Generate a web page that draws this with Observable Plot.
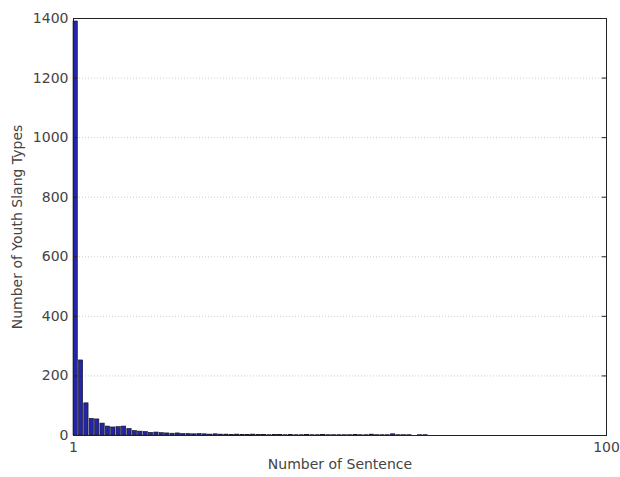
<!DOCTYPE html>
<html><head><meta charset="utf-8">
<script src="https://cdn.jsdelivr.net/npm/d3@7"></script>
<script src="https://cdn.jsdelivr.net/npm/@observablehq/plot@0.6"></script>
<style>
body{margin:0;background:#fff;font-family:"DejaVu Sans",sans-serif;}
</style></head>
<body><div id="chart"></div>
<script>
const sentenceCounts = d3.range(1, 67);
const slangTypes = [1390, 252, 108, 56, 54, 40, 30, 27, 28, 30, 22, 15, 13, 12, 9, 10, 8, 7, 6, 7, 5, 5, 4, 5, 4, 3, 4, 3, 3, 2, 3, 2, 2, 3, 2, 2, 1, 2, 2, 1, 2, 1, 1, 2, 1, 1, 2, 1, 1, 1, 1, 1, 2, 1, 1, 3, 1, 1, 1, 4, 1, 1, 1, 0, 1, 1];
const yTicks = [0, 200, 400, 600, 800, 1000, 1200, 1400];
const xTicks = [1, 100];

const data = sentenceCounts.map((s, i) => ({s, n: slangTypes[i]}));

const chart = Plot.plot({
  width: 620,
  height: 477,
  marginLeft: 73,
  marginRight: 14,
  marginTop: 18,
  marginBottom: 42,
  style: {fontFamily: "DejaVu Sans, sans-serif", fontSize: "14px", color: "#444", background: "#fff"},
  x: {domain: [1, 100], ticks: xTicks, tickFormat: d => d, label: null},
  y: {domain: [0, 1400], ticks: yTicks, tickFormat: d => String(d), label: null},
  marks: [
    Plot.ruleY(yTicks.slice(1, -1), {stroke: "#ccc", strokeDasharray: "1,2"}),
    Plot.rectY(data, {x1: d => d.s, x2: d => d.s + 0.8, y: "n", fill: "#2424a8", stroke: "#111", strokeWidth: 0.6}),
    Plot.frame({stroke: "#222", strokeWidth: 1}),
    Plot.axisY({ticks: yTicks, tickFormat: d => String(d), tickSize: 0, tickPadding: 5, fontSize: 14, label: null}),
    Plot.axisX({ticks: xTicks, tickFormat: d => String(d), tickSize: 0, tickPadding: 7, fontSize: 14, label: null}),
    Plot.ruleY(yTicks, {x1: 1, x2: 1.8, stroke: "#222"}),
    Plot.ruleY(yTicks, {x1: 99.2, x2: 100, stroke: "#222"}),
    Plot.text(["Number of Sentence"], {frameAnchor: "bottom", dy: 33, fontSize: 14, fill: "#444"}),
    Plot.text(["Number of Youth Slang Types"], {frameAnchor: "left", textAnchor: "middle", dx: -56, rotate: -90, fontSize: 14, fill: "#444"})
  ]
});
document.getElementById("chart").append(chart);
</script>
</body></html>
